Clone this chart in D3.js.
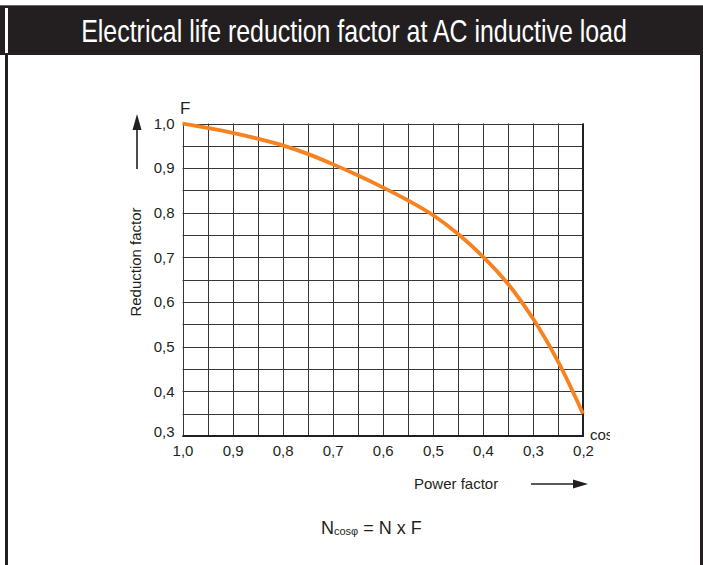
<!DOCTYPE html>
<html><head><meta charset="utf-8">
<script src="https://cdn.jsdelivr.net/npm/d3@7"></script>
<style>html,body{margin:0;padding:0;background:#fff;}svg{display:block;}</style>
</head><body>
<script>
const titleText = "Electrical life reduction factor at AC inductive load";
const powerFactor = [1.0,0.95,0.9,0.85,0.8,0.75,0.7,0.65,0.6,0.55,0.5,0.45,0.4,0.35,0.3,0.25,0.2];
const reductionF  = [1.0,0.990,0.979,0.966,0.951,0.932,0.909,0.884,0.857,0.828,0.795,0.753,0.702,0.641,0.563,0.467,0.35];
const xTickValues = [1.0,0.9,0.8,0.7,0.6,0.5,0.4,0.3,0.2];
const yTickValues = [1.0,0.9,0.8,0.7,0.6,0.5,0.4,0.3];
const xGrid = d3.range(0,17).map(i=>+(1.0-i*0.05).toFixed(2));
const yGrid = d3.range(0,15).map(i=>+(0.3+i*0.05).toFixed(2));

const W=703,H=565;
const svg=d3.select("body").append("svg").attr("width",W).attr("height",H);
const ink="#231f20";
const font="Liberation Sans, Arial, Helvetica, sans-serif";

// frame
svg.append("rect").attr("x",0).attr("y",5).attr("width",W).attr("height",50).attr("fill",ink);
svg.append("line").attr("x1",0).attr("x2",W).attr("y1",5.5).attr("y2",5.5).attr("stroke","#666").attr("stroke-width",1);
svg.append("rect").attr("x",5).attr("y",8).attr("width",3).attr("height",45).attr("fill","#fff");
svg.append("rect").attr("x",5).attr("y",55).attr("width",3).attr("height",H-55).attr("fill",ink);
svg.append("rect").attr("x",700).attr("y",53).attr("width",3).attr("height",H-53).attr("fill",ink);
const tg=svg.append("g").attr("transform","translate(354,42)");
const tt=tg.append("text").attr("x",0).attr("y",0).attr("text-anchor","middle")
  .attr("fill","#fff").attr("font-family","Liberation Sans Narrow, Arial Narrow, Liberation Sans, sans-serif")
  .attr("font-size",31).text(titleText);
const tl=tt.node().getComputedTextLength();
const sx=tl>0?546/tl:1;
tt.attr("transform",`scale(${sx},1)`);

const x=d3.scaleLinear().domain([1.0,0.2]).range([182.5,583]);
const y=d3.scaleLinear().domain([0.3,1.0]).range([436,123.5]);

const g=svg.append("g");
g.selectAll(".vg").data(xGrid).join("line")
  .attr("x1",d=>Math.round(x(d))+0.5).attr("x2",d=>Math.round(x(d))+0.5)
  .attr("y1",y(1.0)).attr("y2",y(0.3)).attr("stroke","#3a3637").attr("stroke-width",1);
g.selectAll(".hg").data(yGrid).join("line")
  .attr("y1",d=>Math.round(y(d))+0.5).attr("y2",d=>Math.round(y(d))+0.5)
  .attr("x1",x(1.0)).attr("x2",x(0.2)).attr("stroke","#3a3637").attr("stroke-width",1);
g.append("line").attr("x1",x(1.0)).attr("x2",x(0.2)+1).attr("y1",y(0.3)).attr("y2",y(0.3)).attr("stroke",ink).attr("stroke-width",2);
g.append("line").attr("x1",x(0.2)).attr("x2",x(0.2)).attr("y1",y(1.0)).attr("y2",y(0.3)).attr("stroke",ink).attr("stroke-width",2);

const fmt=d=>d3.format(".1f")(d).replace(".",",");
const xAxis=d3.axisBottom(x).tickValues(xTickValues).tickSize(0).tickPadding(8).tickFormat(fmt);
const ax=svg.append("g").attr("transform",`translate(0,${y(0.3)+1})`).call(xAxis);
ax.select(".domain").remove();
ax.selectAll("text").attr("font-family",font).attr("font-size",15).attr("fill",ink);

const yAxis=d3.axisLeft(y).tickValues(yTickValues).tickSize(0).tickPadding(8).tickFormat(fmt);
const ay=svg.append("g").attr("transform",`translate(${x(1.0)},0)`).call(yAxis);
ay.select(".domain").remove();
ay.selectAll("text").attr("font-family",font).attr("font-size",15).attr("fill",ink);
ay.selectAll(".tick").filter(d=>d===0.3).select("text").attr("dy","0.05em");

// curve
const pts=powerFactor.map((p,i)=>[p,reductionF[i]]);
svg.append("path").datum(pts).attr("fill","none").attr("stroke","#f7821f").attr("stroke-width",3.8)
  .attr("stroke-linecap","butt")
  .attr("d",d3.line().x(d=>x(d[0])).y(d=>y(d[1])).curve(d3.curveCatmullRom.alpha(0.5)));

// F label
svg.append("text").attr("x",180).attr("y",114).attr("font-family",font).attr("font-size",17).attr("fill",ink).text("F");
// up arrow
svg.append("line").attr("x1",137).attr("x2",137).attr("y1",169).attr("y2",127).attr("stroke",ink).attr("stroke-width",1.6);
svg.append("path").attr("d","M137,114 L132.5,130 L141.5,130 Z").attr("fill",ink);
// y title
svg.append("text").attr("transform","translate(141,262) rotate(-90)").attr("text-anchor","middle")
  .attr("font-family",font).attr("font-size",15).attr("fill",ink).text("Reduction factor");
// cos (clipped)
svg.append("clipPath").attr("id","cc").append("rect").attr("x",585).attr("y",420).attr("width",25).attr("height",30);
svg.append("text").attr("clip-path","url(#cc)").attr("x",590).attr("y",440).attr("font-family",font).attr("font-size",15).attr("fill",ink).text("cosφ");
// x title
svg.append("text").attr("x",414).attr("y",489).attr("font-family",font).attr("font-size",15).attr("fill",ink).text("Power factor");
svg.append("line").attr("x1",531).attr("x2",575).attr("y1",484).attr("y2",484).attr("stroke",ink).attr("stroke-width",1.6);
svg.append("path").attr("d","M588,484 L573,479.5 L573,488.5 Z").attr("fill",ink);
// formula
const ft=svg.append("text").attr("x",321).attr("y",534).attr("font-family",font).attr("font-size",18).attr("fill",ink);
ft.append("tspan").text("N");
ft.append("tspan").attr("font-size",11).attr("dy",1).text("cosφ");
ft.append("tspan").attr("dy",-1).text(" = N x F");
</script>
</body></html>
